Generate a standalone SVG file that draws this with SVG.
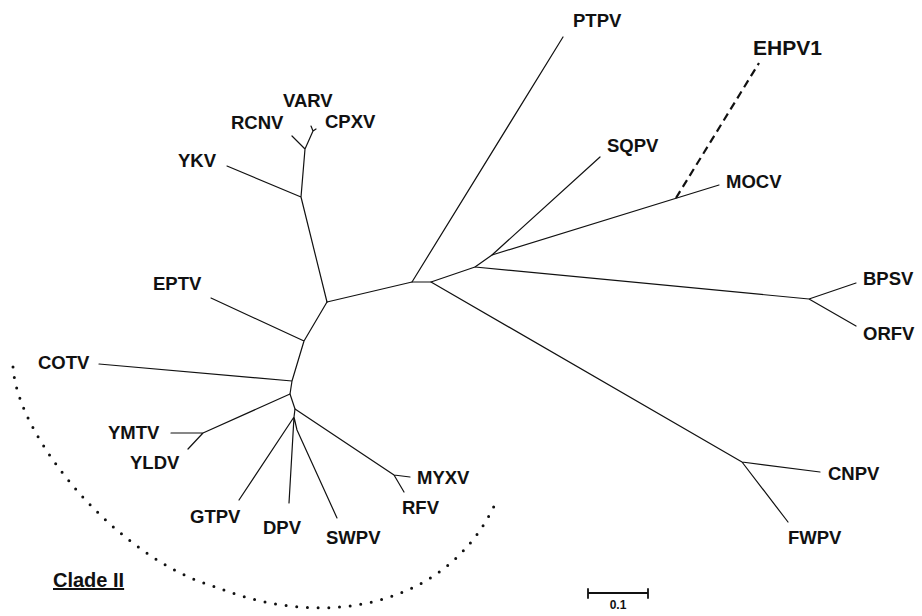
<svg xmlns="http://www.w3.org/2000/svg" width="922" height="616" viewBox="0 0 922 616">
<style>
.br{fill:none;stroke:#111;stroke-width:1.2;stroke-linecap:round;stroke-linejoin:round}
.dash{fill:none;stroke:#111;stroke-width:2.2;stroke-dasharray:8 5}
.lab{font-family:"Liberation Sans",Arial,Helvetica,sans-serif;font-weight:bold;font-size:18.5px;fill:#111}
.dots{fill:none;stroke:#111;stroke-width:3;stroke-linecap:round;stroke-dasharray:0 10.7}
</style>
<rect width="922" height="616" fill="#fff"/>
<g id="connectors">
<path class="br" d="M327,302 L412,282 L431,282 L475,267 L492,255 L600,157"/>
<path class="br" d="M492,255 L719,185"/>
<path class="dash" d="M676,198 L759,63"/>
<path class="br" d="M475,267 L809,299 L856,283 M809,299 L856,326"/>
<path class="br" d="M431,282 L742,462 L820,472 M742,462 L788,522"/>
<path class="br" d="M412,282 L563,37"/>
<path class="br" d="M327,302 L301,197 L227,166 M301,197 L305,149 L292,136 M305,149 L313,131 L311,126 M313,131 L316,129"/>
<path class="br" d="M327,302 L304,341 L211,298 M304,341 L292,381 L99,364 M292,381 L290,394 L203,433 L171,433 M203,433 L188,449"/>
<path class="br" d="M290,394 L295,409 L394,475 L410,477 M394,475 L404,492"/>
<path class="br" d="M295,409 L294,417 L239,500 M294,417 L289,503 M294,417 L297,430 L337,518"/>
</g>
<g id="arc"><path class="dots" d="M13,367 C18,440 120,560 216,587 C320,629 447,611 497,500"/></g>
<g id="n-PTPV"><text class="lab" x="573" y="27">PTPV</text></g>
<g id="n-EHPV1"><text class="lab" x="753" y="55" style="font-size:21px">EHPV1</text></g>
<g id="n-SQPV"><text class="lab" x="607" y="152">SQPV</text></g>
<g id="n-MOCV"><text class="lab" x="726" y="188">MOCV</text></g>
<g id="n-BPSV"><text class="lab" x="863" y="285">BPSV</text></g>
<g id="n-ORFV"><text class="lab" x="863" y="340">ORFV</text></g>
<g id="n-CNPV"><text class="lab" x="828" y="480">CNPV</text></g>
<g id="n-FWPV"><text class="lab" x="788" y="544">FWPV</text></g>
<g id="n-VARV"><text class="lab" x="283" y="107">VARV</text></g>
<g id="n-RCNV"><text class="lab" x="231" y="129">RCNV</text></g>
<g id="n-CPXV"><text class="lab" x="325" y="128">CPXV</text></g>
<g id="n-YKV"><text class="lab" x="178" y="167">YKV</text></g>
<g id="n-EPTV"><text class="lab" x="153" y="290">EPTV</text></g>
<g id="n-COTV"><text class="lab" x="38" y="369">COTV</text></g>
<g id="n-YMTV"><text class="lab" x="108" y="439">YMTV</text></g>
<g id="n-YLDV"><text class="lab" x="130" y="469">YLDV</text></g>
<g id="n-GTPV"><text class="lab" x="190" y="523">GTPV</text></g>
<g id="n-DPV"><text class="lab" x="263" y="534">DPV</text></g>
<g id="n-SWPV"><text class="lab" x="326" y="544">SWPV</text></g>
<g id="n-RFV"><text class="lab" x="402" y="514">RFV</text></g>
<g id="n-MYXV"><text class="lab" x="417" y="484">MYXV</text></g>
<g id="clade"><text class="lab" x="53" y="587" style="font-size:20px;text-decoration:underline">Clade II</text></g>
<g id="scale">
<path class="br" d="M588,593 L648,593 M588,589 L588,598 M648,589 L648,598" style="stroke-width:1.8"/>
<text class="lab" x="618" y="609" text-anchor="middle" style="font-size:12px">0.1</text>
</g>
</svg>
